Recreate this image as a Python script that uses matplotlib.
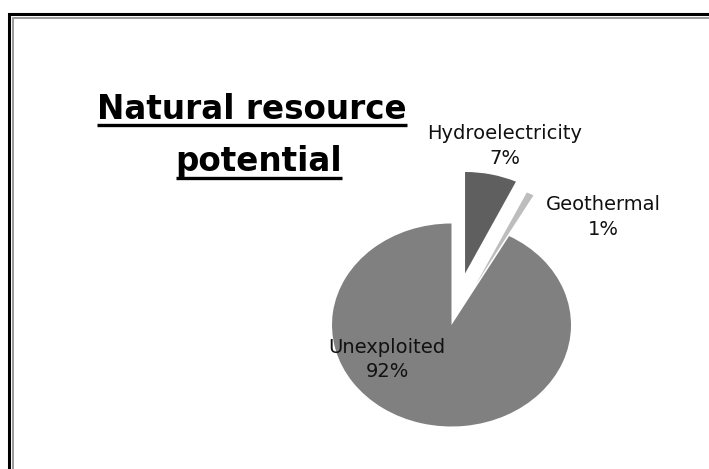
import matplotlib
matplotlib.use("Agg")
import matplotlib.pyplot as plt
from matplotlib.patches import Rectangle
from matplotlib.lines import Line2D

# ---- data ----
categories = ["Hydroelectricity", "Geothermal", "Unexploited"]
values = [7, 1, 92]
colors = ["#5f5f5f", "#bdbdbd", "#808080"]
explode = [0.52, 0.45, 0.0]
title_lines = ["Natural resource", "potential"]

W, H = 709, 469
fig = plt.figure(figsize=(W / 100, H / 100), dpi=100)
fig.patch.set_facecolor("white")

# pie geometry (pixels): center (451.5, 325 from top), rx=119.5, ry=101.5
cx, cy_top, rx, ry = 451.5, 325.0, 119.5, 101.5
xl, xr, yb, yt = -1.3, 1.3, -1.1, 1.7
left = cx + xl * rx
bottom = (H - cy_top) + yb * ry
ax = fig.add_axes([left / W, bottom / H, (xr - xl) * rx / W, (yt - yb) * ry / H])

wedges, _ = ax.pie(values, colors=colors, explode=explode, startangle=90,
                   counterclock=False, labels=None,
                   wedgeprops=dict(linewidth=0, antialiased=True))
ax.set_aspect("auto")
ax.set_xlim(xl, xr)
ax.set_ylim(yb, yt)
ax.axis("off")

total = sum(values)
def px2data(x, ytop):
    return (x - cx) / rx, (cy_top - ytop) / ry

label_pos = [(504.5, 146), (603, 217), (387, 359.5)]
for cat, v, (px, py) in zip(categories, values, label_pos):
    dx, dy = px2data(px, py)
    ax.text(dx, dy, f"{cat}\n{v / total * 100:.0f}%", ha="center", va="center",
            fontsize=14, family="DejaVu Sans", color="#111111",
            linespacing=1.35)

# ---- title with underline ----
title_centers = [252, 259]
title_baselines = [119, 171]
texts = []
for line, xc, yb_ in zip(title_lines, title_centers, title_baselines):
    t = fig.text(xc / W, (H - yb_) / H, line, ha="center", va="baseline",
                 fontsize=23.5, fontweight="bold", family="DejaVu Sans",
                 color="black")
    texts.append((t, yb_))
fig.canvas.draw()
r = fig.canvas.get_renderer()
for t, yb_ in texts:
    bb = t.get_window_extent(renderer=r)
    uy = (H - (yb_ + 6.5)) / H
    fig.add_artist(Line2D([bb.x0 / W, bb.x1 / W], [uy, uy], color="black",
                          lw=2.4, transform=fig.transFigure,
                          solid_capstyle="butt"))

# ---- frame (double border, cut at right/bottom) ----
fig.patches.append(Rectangle((9 / W, -0.2), 1.2, (H - 14.5) / H + 0.2,
                             fill=False, edgecolor="black", lw=2.2,
                             transform=fig.transFigure, figure=fig))
fig.patches.append(Rectangle((13.3 / W, -0.2), 1.2, (H - 17.8) / H + 0.2,
                             fill=False, edgecolor="#9a9a9a", lw=1.4,
                             transform=fig.transFigure, figure=fig))

fig.savefig("out.png", dpi=100, facecolor="white")
